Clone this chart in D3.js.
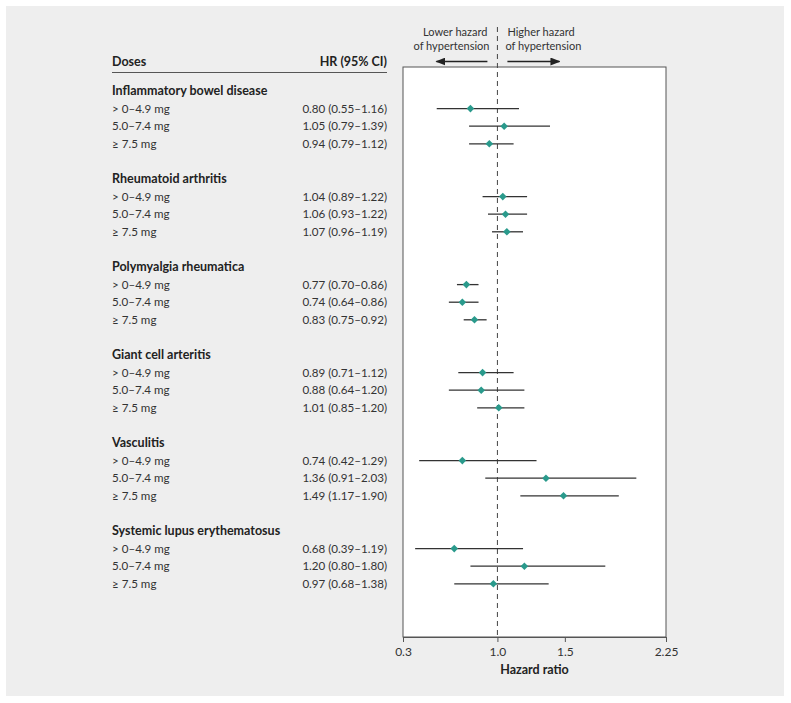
<!DOCTYPE html>
<html><head><meta charset="utf-8">
<script src="https://cdn.jsdelivr.net/npm/d3@7"></script>
<style>
body{margin:0;background:#fff;}
svg{display:block;font-family:Lato,"Noto Sans",sans-serif;}
</style></head>
<body><svg id="chart" width="791" height="703"></svg>
<script>
const groups = ["Inflammatory bowel disease","Rheumatoid arthritis","Polymyalgia rheumatica","Giant cell arteritis","Vasculitis","Systemic lupus erythematosus"];
const doses = ["> 0\u20134.9 mg","5.0\u20137.4 mg","\u2265 7.5 mg"];
const hr    = [0.80,1.05,0.94, 1.04,1.06,1.07, 0.77,0.74,0.83, 0.89,0.88,1.01, 0.74,1.36,1.49, 0.68,1.20,0.97];
const lower = [0.55,0.79,0.79, 0.89,0.93,0.96, 0.70,0.64,0.75, 0.71,0.64,0.85, 0.42,0.91,1.17, 0.39,0.80,0.68];
const upper = [1.16,1.39,1.12, 1.22,1.22,1.19, 0.86,0.86,0.92, 1.12,1.20,1.20, 1.29,2.03,1.90, 1.19,1.80,1.38];
const xTicks = [0.3,1.0,1.5,2.25];
const xTickLabels = ["0.3","1.0","1.5","2.25"];

const svg = d3.select("#chart");
svg.append("rect").attr("x",6).attr("y",6).attr("width",778).attr("height",690).attr("fill","#eeeeee");

const box = {l:403,r:666,t:67,b:637};
const x = d3.scaleLinear().domain([0.3,2.25]).range([box.l,box.r]);
const rowY = d3.scaleLinear().domain([0,1]).range([91,91+17.6]);
const fmt = d3.format(".2f");

// header
svg.append("text").attr("x",112).attr("y",66).attr("font-weight","bold").attr("font-size",12.5).attr("fill","#222").text("Doses");
svg.append("text").attr("x",387).attr("y",66).attr("text-anchor","end").attr("font-weight","bold").attr("font-size",12.5).attr("fill","#222").text("HR (95% CI)");
svg.append("line").attr("x1",112).attr("x2",387).attr("y1",72.5).attr("y2",72.5).attr("stroke","#555").attr("stroke-width",1);

// plot box
svg.append("rect").attr("x",box.l).attr("y",box.t).attr("width",box.r-box.l).attr("height",box.b-box.t)
  .attr("fill","#fff").attr("stroke","#555").attr("stroke-width",1);

// axis
const axis = d3.axisBottom(x).tickValues(xTicks).tickFormat((d,i)=>xTickLabels[i]).tickSize(5).tickPadding(5);
const ax = svg.append("g").attr("transform",`translate(0,${box.b})`).call(axis);
ax.select(".domain").attr("stroke","#555");
ax.selectAll(".tick line").attr("stroke","#555");
ax.selectAll(".tick text").attr("font-size",12).attr("fill","#333").attr("font-family","Lato,'Noto Sans',sans-serif");
svg.append("text").attr("x",(box.l+box.r)/2).attr("y",674).attr("text-anchor","middle").attr("font-weight","bold").attr("font-size",12.5).attr("fill","#222").text("Hazard ratio");

// reference line
svg.append("line").attr("x1",x(1)).attr("x2",x(1)).attr("y1",27).attr("y2",box.b)
  .attr("stroke","#444").attr("stroke-width",1).attr("stroke-dasharray","5,4");

// direction labels
const tl = svg.append("g").attr("font-size",11).attr("fill","#333");
tl.append("text").attr("x",x(1)-10).attr("y",36).attr("text-anchor","end").attr("fill","#333").text("Lower hazard");
tl.append("text").attr("x",x(1)-8).attr("y",50).attr("text-anchor","end").attr("fill","#333").text("of hypertension");
tl.append("text").attr("x",x(1)+10).attr("y",36).attr("fill","#333").text("Higher hazard");
tl.append("text").attr("x",x(1)+8).attr("y",50).attr("fill","#333").text("of hypertension");
const defs = svg.append("defs");
defs.append("marker").attr("id","ah").attr("viewBox","0 0 10 10").attr("refX",9).attr("refY",5)
  .attr("markerWidth",10).attr("markerHeight",8).attr("orient","auto-start-reverse").attr("markerUnits","userSpaceOnUse")
  .attr("preserveAspectRatio","none")
  .append("path").attr("d","M0,0 L10,5 L0,10 Z").attr("fill","#222");
svg.append("line").attr("x1",x(1)-10).attr("x2",x(1)-61).attr("y1",61.5).attr("y2",61.5).attr("stroke","#222").attr("stroke-width",1.5).attr("marker-end","url(#ah)");
svg.append("line").attr("x1",x(1)+10).attr("x2",x(1)+62).attr("y1",61.5).attr("y2",61.5).attr("stroke","#222").attr("stroke-width",1.5).attr("marker-end","url(#ah)");

// rows
groups.forEach((g,gi)=>{
  svg.append("text").attr("x",112).attr("y",rowY(gi*5)+4).attr("font-weight","bold").attr("font-size",12.5).attr("fill","#222").text(g);
  doses.forEach((d,di)=>{
    const k = gi*3+di;
    const y = rowY(gi*5+di+1);
    svg.append("text").attr("x",112).attr("y",y+4).attr("font-size",11.6).attr("fill","#333").text(d);
    svg.append("text").attr("x",387).attr("y",y+4).attr("text-anchor","end").attr("font-size",11.6).attr("fill","#333")
      .text(`${fmt(hr[k])} (${fmt(lower[k])}\u2013${fmt(upper[k])})`);
    svg.append("line").attr("x1",x(lower[k])).attr("x2",x(upper[k])).attr("y1",y).attr("y2",y).attr("stroke","#333").attr("stroke-width",1.3);
    svg.append("path").attr("transform",`translate(${x(hr[k])},${y})`).attr("d","M0,-3.8 L3.8,0 L0,3.8 L-3.8,0 Z").attr("fill","#2a9a8c");
  });
});
</script></body></html>
